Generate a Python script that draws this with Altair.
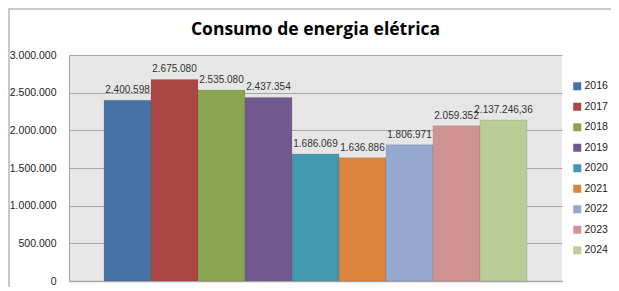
import altair as alt
import pandas as pd

years = ["2016", "2017", "2018", "2019", "2020", "2021", "2022", "2023", "2024"]
values = [2400598, 2675080, 2535080, 2437354, 1686069, 1636886, 1806971, 2059352, 2137246.36]
labels = ["2.400.598", "2.675.080", "2.535.080", "2.437.354", "1.686.069",
          "1.636.886", "1.806.971", "2.059.352", "2.137.246,36"]
colors = ["#4572A7", "#AA4643", "#89A54E", "#71588F", "#4198AF",
          "#DB843D", "#93A9CF", "#D19392", "#B9CD96"]
tick_values = [0, 500000, 1000000, 1500000, 2000000, 2500000, 3000000]
title_text = "Consumo de energia elétrica"

df = pd.DataFrame({"Ano": years, "Consumo": values, "Rotulo": labels})

FONT = "Liberation Sans"

x_enc = alt.X("Ano:N", sort=years,
              scale=alt.Scale(paddingInner=0, paddingOuter=0.745),
              axis=alt.Axis(title=None, labels=False, ticks=False,
                            domainColor="#A6A6A6", domainWidth=1.5))
y_enc = alt.Y("Consumo:Q",
              scale=alt.Scale(domain=[0, 3000000], nice=False),
              axis=alt.Axis(title=None, values=tick_values,
                            labelExpr="replace(format(datum.value, ','), /,/g, '.')",
                            labelOverlap=False,
                            ticks=False, domain=True, domainColor="#A6A6A6",
                            gridColor="#A6A6A6", gridWidth=1.2,
                            labelFont=FONT, labelFontSize=10.5, labelColor="#222222",
                            labelPadding=13))

bars = alt.Chart(df).mark_bar(stroke="#555555", strokeWidth=0.3, strokeOpacity=0.5).encode(
    x=x_enc, y=y_enc,
    color=alt.Color("Ano:N", sort=years,
                    scale=alt.Scale(domain=years, range=colors),
                    legend=alt.Legend(title=None, orient="none", legendX=503, legendY=26,
                                      symbolType="square", symbolSize=64, symbolStrokeWidth=0,
                                      labelFont=FONT, labelFontSize=10.5, labelColor="#222222",
                                      rowPadding=9.5, labelOffset=2)),
)

text = alt.Chart(df).mark_text(baseline="bottom", dy=-5, font=FONT, fontSize=10, color="#333333").encode(
    x=x_enc, y=y_enc, text="Rotulo:N")

title = alt.Chart(alt.Data(values=[{"t": title_text}])).mark_text(
    font="Open Sans", fontSize=17.5, fontWeight="bold", color="#000000", baseline="middle"
).encode(x=alt.value(246.5), y=alt.value(-25), text="t:N")

frame_top = alt.Chart(alt.Data(values=[{}])).mark_rule(color="#C8C8C8", strokeWidth=2).encode(
    x=alt.value(-61), x2=alt.value(560), y=alt.value(-46))
frame_left = alt.Chart(alt.Data(values=[{}])).mark_rule(color="#C8C8C8", strokeWidth=2).encode(
    x=alt.value(-60), y=alt.value(-47), y2=alt.value(240))

chart = alt.layer(bars, text, title, frame_top, frame_left).properties(
    width=493, height=226,
    autosize=alt.AutoSizeParams(type="none"),
    padding={"left": 61, "top": 47, "right": 49, "bottom": 6},
).configure_view(fill="#E6E6E6", stroke=None)

chart.save("out.html", embed_options={"renderer": "svg", "actions": False})
